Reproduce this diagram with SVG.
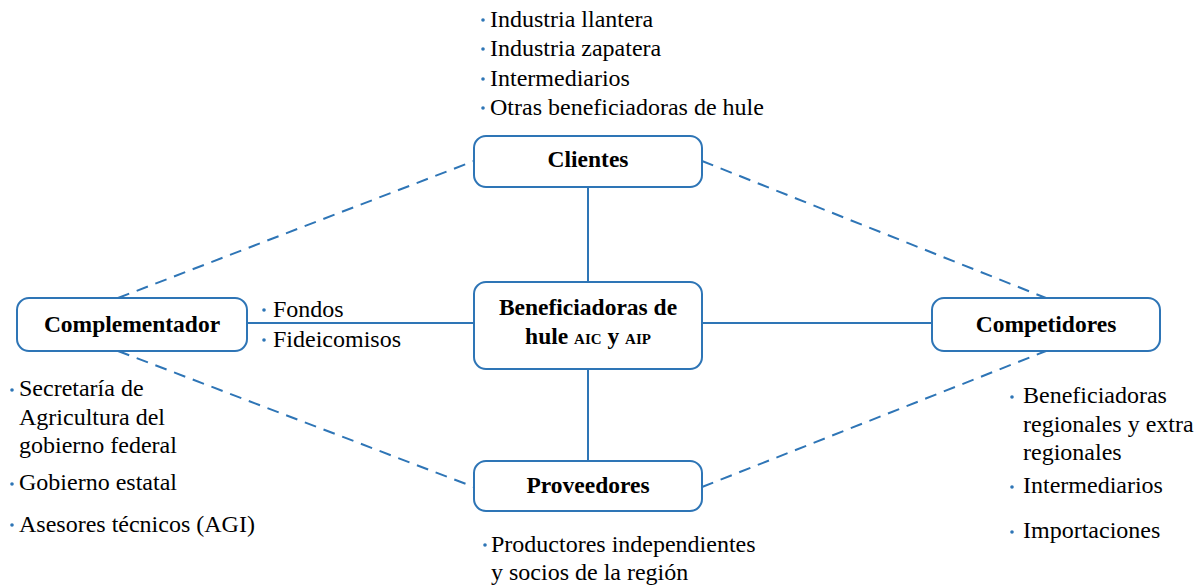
<svg xmlns="http://www.w3.org/2000/svg" width="1199" height="587" viewBox="0 0 1199 587">
<style>
.box{fill:#fff;stroke:#2e75b6;stroke-width:2}
.solid{stroke:#2e75b6;stroke-width:2;fill:none}
.dash{stroke:#2e75b6;stroke-width:2;fill:none;stroke-dasharray:12 8}
.lbl{font-family:"Liberation Serif","Times New Roman",serif;font-weight:bold;font-size:23.5px;fill:#000;text-anchor:middle}
.sm{font-size:15px}
.txt{font-family:"Liberation Serif","Times New Roman",serif;font-size:24px;fill:#000}
.dot{fill:#2e75b6}
</style>
<rect width="1199" height="587" fill="#fff"/>
<g id="connectors">
<line class="solid" x1="588" y1="187" x2="588" y2="282"/>
<line class="solid" x1="588" y1="369" x2="588" y2="461"/>
<line class="solid" x1="247" y1="323" x2="474" y2="323"/>
<line class="solid" x1="702" y1="323" x2="932" y2="323"/>
<line class="dash" x1="118" y1="298" x2="474" y2="161"/>
<line class="dash" x1="118" y1="351" x2="474" y2="487"/>
<line class="dash" x1="702" y1="161" x2="1046" y2="298"/>
<line class="dash" x1="702" y1="487" x2="1046" y2="351"/>
</g>
<g id="clientes">
<rect class="box" x="474" y="136" width="228" height="51" rx="12"/>
<text class="lbl" x="588" y="167">Clientes</text>
</g>
<g id="beneficiadoras">
<rect class="box" x="474" y="282" width="228" height="87" rx="12"/>
<text class="lbl" x="588" y="315">Beneficiadoras de</text>
<text class="lbl" x="588" y="344">hule <tspan class="sm">AIC</tspan> y <tspan class="sm">AIP</tspan></text>
</g>
<g id="complementador">
<rect class="box" x="17" y="298" width="230" height="53" rx="12"/>
<text class="lbl" x="132" y="332">Complementador</text>
</g>
<g id="competidores">
<rect class="box" x="932" y="298" width="228" height="53" rx="12"/>
<text class="lbl" x="1046" y="332">Competidores</text>
</g>
<g id="proveedores">
<rect class="box" x="474" y="461" width="228" height="50" rx="12"/>
<text class="lbl" x="588" y="493">Proveedores</text>
</g>
<g id="clientes-list">
<circle class="dot" cx="483" cy="20" r="1.8"/>
<text class="txt" x="490" y="27">Industria llantera</text>
<circle class="dot" cx="483" cy="49" r="1.8"/>
<text class="txt" x="490" y="56">Industria zapatera</text>
<circle class="dot" cx="483" cy="79" r="1.8"/>
<text class="txt" x="490" y="86">Intermediarios</text>
<circle class="dot" cx="483" cy="108" r="1.8"/>
<text class="txt" x="490" y="115">Otras beneficiadoras de hule</text>
</g>
<g id="complementador-fondos">
<circle class="dot" cx="264" cy="310" r="1.8"/>
<text class="txt" x="273" y="317">Fondos</text>
<circle class="dot" cx="264" cy="340" r="1.8"/>
<text class="txt" x="273" y="347">Fideicomisos</text>
</g>
<g id="complementador-list">
<circle class="dot" cx="12" cy="390" r="1.8"/>
<text class="txt" x="19" y="396">Secretaría de</text>
<text class="txt" x="19" y="425">Agricultura del</text>
<text class="txt" x="19" y="453">gobierno federal</text>
<circle class="dot" cx="12" cy="484" r="1.8"/>
<text class="txt" x="19" y="490">Gobierno estatal</text>
<circle class="dot" cx="12" cy="525" r="1.8"/>
<text class="txt" x="19" y="532">Asesores técnicos (AGI)</text>
</g>
<g id="competidores-list">
<circle class="dot" cx="1012" cy="397" r="1.8"/>
<text class="txt" x="1023" y="403">Beneficiadoras</text>
<text class="txt" x="1023" y="432">regionales y extra</text>
<text class="txt" x="1023" y="460">regionales</text>
<circle class="dot" cx="1012" cy="487" r="1.8"/>
<text class="txt" x="1023" y="493">Intermediarios</text>
<circle class="dot" cx="1012" cy="532" r="1.8"/>
<text class="txt" x="1023" y="538">Importaciones</text>
</g>
<g id="proveedores-list">
<circle class="dot" cx="485" cy="545" r="1.8"/>
<text class="txt" x="491" y="552">Productores independientes</text>
<text class="txt" x="491" y="580">y socios de la región</text>
</g>
</svg>
